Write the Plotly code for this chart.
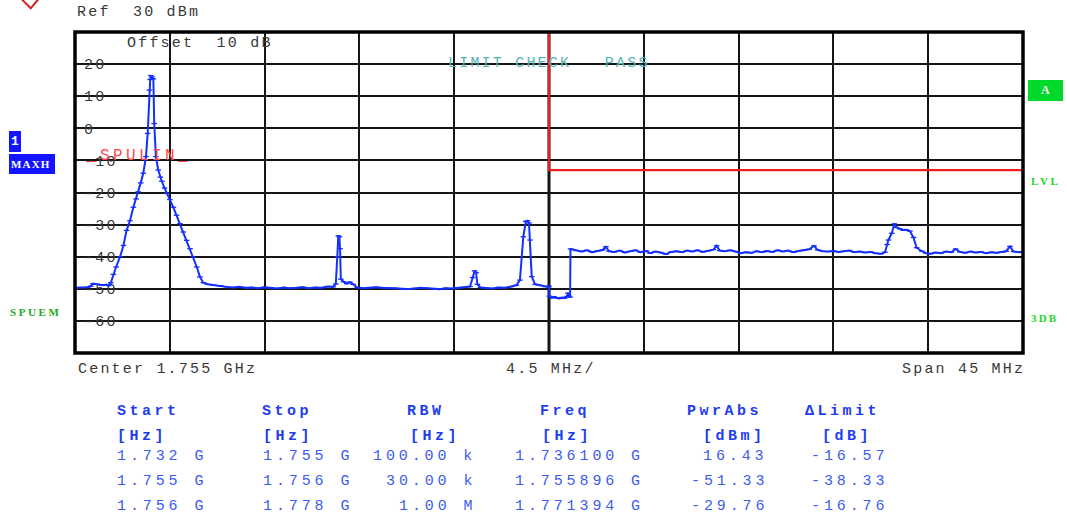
import plotly.graph_objects as go

# ---------------- measurement settings ----------------
center_mhz = 1755.0
span_mhz = 45.0
ref_level_dbm = 30.0
display_range_db = 100.0
offset_db = 10
y_ticks = [20, 10, 0, -10, -20, -30, -40, -50, -60]

# ---------------- trace 1 (max hold), frequency in MHz / level in dBm ----------------
seg1_freq = [1732.50, 1732.80, 1733.10, 1733.25, 1733.35, 1733.55, 1733.80, 1734.00, 1734.10, 1734.20,
             1734.32, 1734.45, 1734.64, 1734.80, 1734.95, 1735.11, 1735.27, 1735.40, 1735.50, 1735.62,
             1735.74, 1735.87, 1735.95, 1736.03, 1736.07, 1736.16, 1736.22, 1736.26, 1736.34, 1736.45,
             1736.55, 1736.62, 1736.75, 1736.85, 1737.00, 1737.17, 1737.32, 1737.48, 1737.64, 1737.80,
             1737.96, 1738.12, 1738.28, 1738.43, 1738.59, 1738.80, 1739.06, 1739.40, 1739.70, 1740.00,
             1740.30, 1740.60, 1740.90, 1741.20, 1741.50, 1741.80, 1742.10, 1742.40, 1742.70, 1743.00,
             1743.30, 1743.60, 1743.90, 1744.20, 1744.50, 1744.75, 1744.88, 1744.95, 1745.00, 1745.05,
             1745.08, 1745.12, 1745.25, 1745.40, 1745.55, 1745.70, 1745.90, 1746.20, 1746.50, 1746.80,
             1747.10, 1747.40, 1747.70, 1748.00, 1748.30, 1748.60, 1748.90, 1749.20, 1749.50, 1749.80,
             1750.10, 1750.40, 1750.70, 1751.00, 1751.25, 1751.38, 1751.47, 1751.54, 1751.60, 1751.75,
             1752.00, 1752.30, 1752.60, 1752.90, 1753.20, 1753.45, 1753.62, 1753.78, 1753.90, 1753.98,
             1754.05, 1754.10, 1754.18, 1754.34, 1754.55, 1754.80, 1754.98]
seg1_dbm = [-49.7, -49.6, -49.5, -49.2, -48.4, -48.6, -48.9, -48.7, -49.0, -48.1,
            -45.5, -43.2, -40.0, -36.5, -31.8, -28.8, -24.6, -22.0, -19.8, -17.0,
            -14.0, -8.8, -1.6, 11.9, 15.2, 16.0, 15.4, 1.5, -8.8, -13.0,
            -15.2, -16.5, -18.6, -20.3, -22.2, -24.6, -27.1, -29.7, -32.3, -34.9,
            -37.5, -40.1, -43.2, -46.3, -48.1, -48.6, -48.9, -49.1, -49.4, -49.6,
            -49.4, -49.7, -49.6, -49.8, -49.5, -49.7, -49.9, -49.6, -49.8, -49.7,
            -49.5, -49.8, -49.6, -49.7, -49.3, -49.4, -48.5, -40.0, -33.5, -33.8,
            -37.5, -47.0, -47.8, -48.4, -47.9, -48.6, -49.6, -49.8, -49.6, -49.5,
            -49.7, -49.8, -49.8, -50.0, -50.1, -49.9, -49.7, -49.8, -50.0, -50.1,
            -49.8, -49.9, -49.7, -49.6, -49.3, -46.5, -44.4, -45.0, -48.6, -49.6,
            -49.8, -49.9, -49.6, -49.7, -49.3, -48.9, -47.3, -33.8, -29.0, -28.8,
            -29.5, -34.8, -46.2, -48.6, -48.9, -49.3, -49.4]

seg2_freq = [1755.00, 1755.02, 1755.12, 1755.25, 1755.38, 1755.50, 1755.62, 1755.75, 1755.85, 1755.95, 1756.00]
seg2_dbm = [-49.2, -52.3, -52.8, -52.5, -52.9, -53.0, -52.7, -52.9, -52.4, -52.3, -52.6]

seg3_freq = [1756.02, 1756.30, 1756.55, 1756.80, 1757.05, 1757.30, 1757.55, 1757.70, 1757.85, 1758.10,
             1758.35, 1758.60, 1758.85, 1759.10, 1759.35, 1759.60, 1759.80, 1760.05, 1760.30, 1760.55,
             1760.80, 1761.05, 1761.30, 1761.55, 1761.80, 1762.05, 1762.30, 1762.55, 1762.80, 1762.96,
             1763.10, 1763.35, 1763.60, 1763.85, 1764.10, 1764.35, 1764.60, 1764.85, 1765.10, 1765.35,
             1765.60, 1765.85, 1766.10, 1766.35, 1766.60, 1766.85, 1767.10, 1767.35, 1767.58, 1767.75,
             1768.00, 1768.25, 1768.50, 1768.75, 1769.00, 1769.25, 1769.50, 1769.75, 1770.00, 1770.25,
             1770.50, 1770.75, 1770.95, 1771.05, 1771.11, 1771.27, 1771.50, 1771.65, 1771.80, 1771.95,
             1772.13, 1772.30, 1772.45, 1772.70, 1772.90, 1773.10, 1773.35, 1773.60, 1773.85, 1774.10,
             1774.30, 1774.50, 1774.75, 1775.00, 1775.25, 1775.50, 1775.75, 1776.00, 1776.25, 1776.50,
             1776.70, 1776.88, 1777.05, 1777.30, 1777.50]
seg3_dbm = [-37.6, -38.1, -38.4, -38.0, -38.6, -38.2, -37.9, -36.9, -38.3, -38.5,
            -38.1, -38.7, -38.3, -38.0, -38.6, -38.2, -38.9, -38.4, -38.7, -39.2,
            -38.5, -38.3, -38.6, -38.1, -38.4, -38.0, -38.5, -38.2, -37.8, -36.6,
            -38.1, -38.3, -38.0, -38.4, -38.9, -38.6, -38.8, -38.3, -38.6, -38.2,
            -38.5, -38.0, -38.4, -38.1, -38.6, -38.2, -38.0, -37.7, -36.6, -37.9,
            -38.3, -38.4, -38.2, -38.5, -38.3, -38.1, -38.6, -38.4, -38.7, -38.5,
            -38.9, -39.1, -38.6, -36.2, -34.8, -32.7, -30.9, -31.3, -31.7, -31.6,
            -32.0, -34.0, -37.2, -38.3, -38.9, -39.1, -38.7, -38.9, -38.4, -38.6,
            -37.6, -38.5, -38.8, -38.4, -38.7, -38.5, -38.9, -38.6, -38.8, -38.5,
            -38.3, -36.8, -38.4, -38.6, -38.5]

# ---------------- spectrum emission mask ranges ----------------
range_start_ghz = [1.732, 1.755, 1.756]
range_stop_ghz = [1.755, 1.756, 1.778]
range_rbw = ["100.00 k", "30.00 k", "1.00 M"]
range_limit_dbm = [33.0, -13.0, -13.0]
peak_freq_mhz = [1736.100, 1755.896, 1771.394]
peak_dbm = [16.43, -51.33, -29.76]

table_headers = ["Start", "Stop", "RBW", "Freq", "PwrAbs", "\u0394Limit"]
table_units = ["[Hz]", "[Hz]", "[Hz]", "[Hz]", "[dBm]", "[dB]"]

# ---------------- derived values ----------------
f_start = center_mhz - span_mhz / 2
f_stop = center_mhz + span_mhz / 2
y_bottom = ref_level_dbm - display_range_db

trace_pts = sorted(zip(seg1_freq + seg2_freq + seg3_freq + peak_freq_mhz,
                       seg1_dbm + seg2_dbm + seg3_dbm + peak_dbm))
trace_f = [p[0] for p in trace_pts]
trace_v = [p[1] for p in trace_pts]

# limit line follows the range table: vertical step at the first range border
b1 = range_stop_ghz[0] * 1000
limit_f = [f_start, b1, b1, f_stop]
limit_v = [range_limit_dbm[0], range_limit_dbm[0], range_limit_dbm[1], range_limit_dbm[2]]

delta_limit = [p - l for p, l in zip(peak_dbm, range_limit_dbm)]

# ---------------- page geometry ----------------
W, H = 1067, 520
ML, MR, MT, MB = 75, 44, 32, 167
PW, PH = W - ML - MR, H - MT - MB

MONO = "Liberation Mono"
SERIF = "Liberation Serif"
GRAY = "#383838"
TRACE_BLUE = "#1430ff"
LIMIT_RED = "#f01e1e"
TABLE_HEAD = "#1e3cf0"
TABLE_BODY = "#3b5bf2"


def px(x):
    return (x - ML) / PW


def py(y):
    return (H - MB - y) / PH


def spaced(s, spacing):
    s = s.replace(" ", "\u00a0")
    return f'<span style="letter-spacing:{spacing}px">{s}</span>'


fig = go.Figure()

fig.add_trace(go.Scatter(
    x=limit_f, y=limit_v, mode="lines",
    line=dict(color=LIMIT_RED, width=2.2), hoverinfo="skip"))

fig.add_trace(go.Scatter(
    x=trace_f, y=trace_v, mode="lines+markers",
    line=dict(color=TRACE_BLUE, width=2),
    marker=dict(symbol="line-ew", size=4, color=TRACE_BLUE,
                line=dict(color=TRACE_BLUE, width=1.3)),
    hoverinfo="skip"))


def text_at(x, y, s, size=15, color=GRAY, spacing=2.2, weight="normal",
            family=MONO, xanchor="left"):
    fig.add_annotation(
        x=px(x), y=py(y), xref="paper", yref="paper",
        text=spaced(s, spacing), showarrow=False,
        xanchor=xanchor, yanchor="middle", borderpad=0, borderwidth=0,
        font=dict(family=family, size=size, color=color, weight=weight))


# ---------------- header / footer texts ----------------
text_at(77, 12.5, f"Ref  {ref_level_dbm:.0f} dBm")
text_at(127, 43, f"Offset  {offset_db} dB")
text_at(448, 63.5, "LIMIT CHECK   PASS", color="#55b4b4")
text_at(86, 156, "_SPULIN_", size=16, color="#ff4a4a", spacing=3.4)

text_at(78, 369, f"Center {center_mhz / 1000:.3f} GHz")
text_at(551, 369, f"{span_mhz / 10:.1f} MHz/", xanchor="center")
text_at(1025, 369, f"Span {span_mhz:.0f} MHz", xanchor="right")

# ---------------- side labels ----------------
shapes = []


def box(x0, y0, x1, y1, color):
    shapes.append(dict(type="rect", xref="paper", yref="paper",
                       x0=px(x0), x1=px(x1), y0=py(y1), y1=py(y0),
                       fillcolor=color, line=dict(width=0), layer="above"))


box(9, 131, 21, 152, "#1414ff")
text_at(10.5, 141.5, "1", size=13, color="white", spacing=0, weight="bold", family=MONO)
box(9, 154, 55, 174, "#1414ff")
text_at(10.5, 164, "MAXH", size=11, color="white", spacing=1.2, weight="bold", family=SERIF)
text_at(10, 312, "SPUEM", size=11, color="#1ea81e", spacing=2.6, weight="bold", family=SERIF)

box(1028, 80, 1063, 101, "#00d82c")
text_at(1045.5, 90.5, "A", size=12, color="white", spacing=0, weight="bold",
        family=SERIF, xanchor="center")
text_at(1031, 181, "LVL", size=11, color="#22d622", spacing=2.6, weight="bold", family=SERIF)
text_at(1031, 318, "3DB", size=11, color="#22d622", spacing=2.2, weight="bold", family=SERIF)

# red marker glyph in the top-left corner
shapes.append(dict(type="path", xref="paper", yref="paper",
                   path=f"M {px(21.5)},{py(-1)} L {px(30.7)},{py(8.3)} L {px(38.5)},{py(-1)}",
                   line=dict(color="#cc2222", width=2), layer="above"))

# ---------------- result table ----------------
row_y = [456.7, 481.7, 506.7]
head_x = [117, 262, 407, 540, 687, 805]
unit_x = [117, 263, 410, 542, 703, 822]
for hx, ux, h, u in zip(head_x, unit_x, table_headers, table_units):
    text_at(hx, 411.7, h, size=15, color=TABLE_HEAD, spacing=3.5, weight="bold")
    text_at(ux, 436.7, u, size=15, color=TABLE_HEAD, spacing=3.5, weight="bold")

for i, ry in enumerate(row_y):
    text_at(117, ry, f"{range_start_ghz[i]:.3f} G", color=TABLE_BODY, spacing=3.9)
    text_at(263, ry, f"{range_stop_ghz[i]:.3f} G", color=TABLE_BODY, spacing=3.9)
    text_at(476, ry, range_rbw[i], color=TABLE_BODY, spacing=3.9, xanchor="right")
    text_at(515, ry, f"{peak_freq_mhz[i] / 1000:.6f} G", color=TABLE_BODY, spacing=3.9)
    text_at(768, ry, f"{peak_dbm[i]:.2f}", color=TABLE_BODY, spacing=3.9, xanchor="right")
    text_at(888, ry, f"{delta_limit[i]:.2f}", color=TABLE_BODY, spacing=3.9, xanchor="right")

# ---------------- grid decorations ----------------
# white patches behind the level labels, between grid and trace
for t in y_ticks:
    lab = f"{t}"
    shapes.append(dict(type="rect", xref="paper", yref="y",
                       x0=px(84), x1=px(84 + 11.2 * len(lab) + 1),
                       y0=t - 2.6, y1=t + 2.6,
                       fillcolor="white", line=dict(width=0), layer="between"))

# thicker centre line and outer frame
shapes.append(dict(type="line", xref="x", yref="paper", x0=center_mhz, x1=center_mhz,
                   y0=0, y1=1, line=dict(color="#111111", width=3), layer="below"))
shapes.append(dict(type="rect", xref="paper", yref="paper", x0=0, x1=1, y0=0, y1=1,
                   line=dict(color="black", width=3.5), layer="above"))

fig.update_layout(
    width=W, height=H,
    margin=dict(l=ML, r=MR, t=MT, b=MB),
    paper_bgcolor="white", plot_bgcolor="white",
    showlegend=False,
    shapes=shapes,
    xaxis=dict(range=[f_start, f_stop], tick0=f_start, dtick=span_mhz / 10,
               showticklabels=False, ticks="", showgrid=True, gridcolor="#161616",
               gridwidth=2, zeroline=False, showline=False, fixedrange=True),
    yaxis=dict(range=[y_bottom, ref_level_dbm], tickmode="array", tickvals=y_ticks,
               ticktext=[spaced(f"{t}", 2.2) for t in y_ticks],
               ticklabelposition="inside", ticklabelstandoff=6, ticks="",
               tickfont=dict(family=MONO, size=15, color=GRAY),
               layer="below traces",
               showgrid=True, gridcolor="#161616", gridwidth=2,
               zeroline=False, showline=False, fixedrange=True),
)

fig.write_html("out.html")
